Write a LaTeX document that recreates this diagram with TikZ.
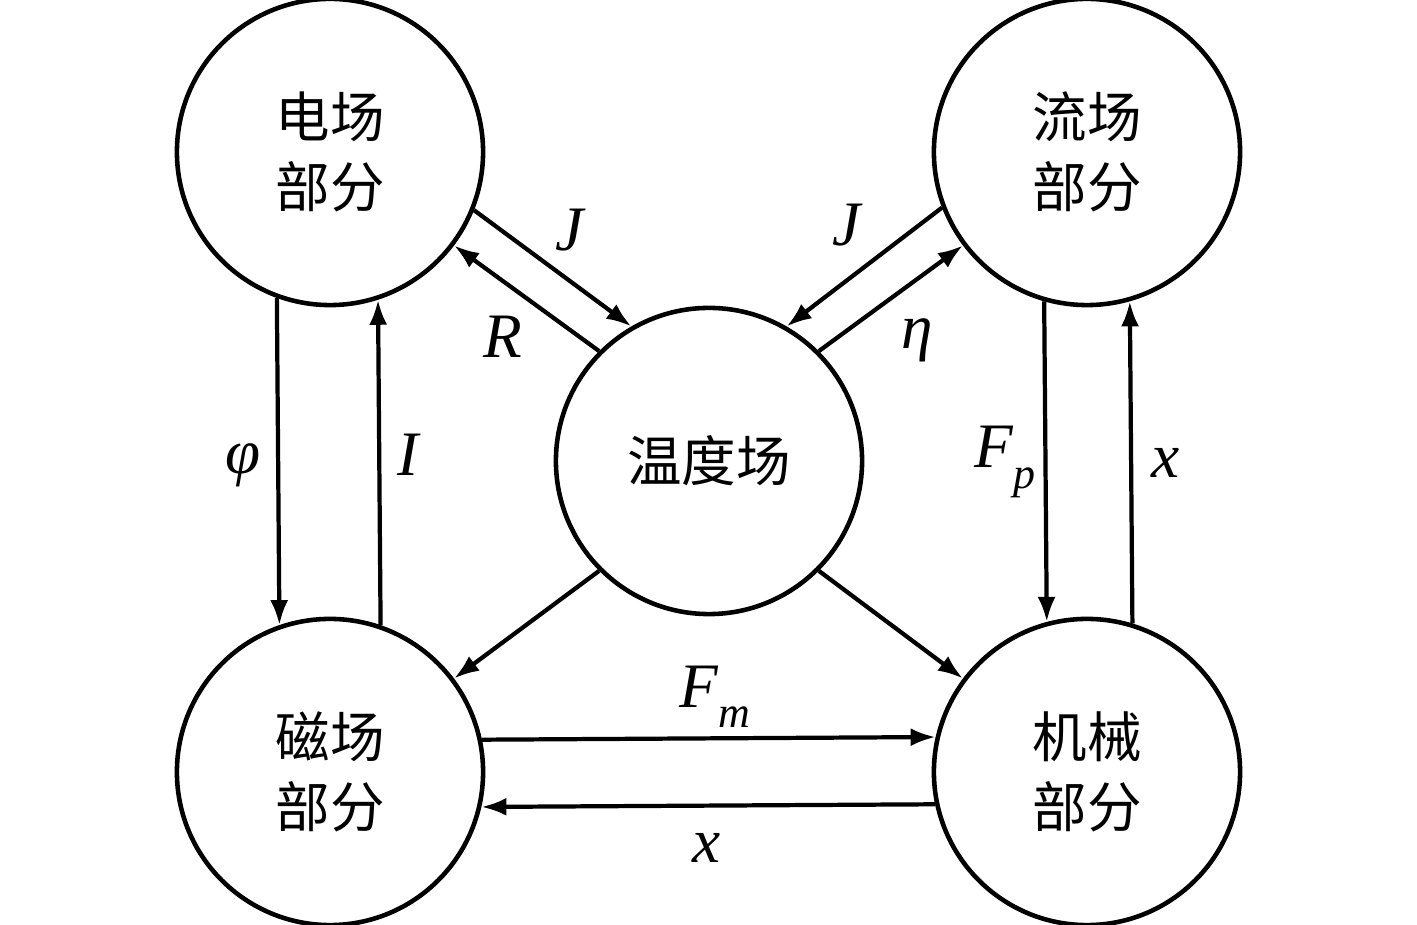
\documentclass[tikz,border=0pt]{standalone}
\usepackage{fontspec}
\setmainfont{Liberation Serif}
\newfontfamily\cjk{Noto Sans CJK SC}
\usetikzlibrary{arrows.meta}
\newcommand{\subit}[1]{\raisebox{-0.32em}{\fontsize{12.5pt}{13pt}\selectfont\itshape #1}}

\begin{document}
\begin{tikzpicture}[x=0.01cm, y=0.01cm]
	\tikzstyle{every node}+=[inner sep=0pt]
	\tikzstyle{field}=[draw, circle, line width=1.3pt, minimum size=3.06cm, align=center, font=\cjk\fontsize{15.5pt}{20pt}\selectfont]
	\tikzstyle{link}=[line width=1.2pt, -{Latex[length=0.25cm, width=0.18cm]}]
	\tikzstyle{lab}=[font=\fontsize{18pt}{20pt}\selectfont\itshape]
	\useasboundingbox (0,0) rectangle (1417,-925);
	% fields
	\node [field] (elec) at (330,-152) {电场\\部分};
	\node [field] (flow) at (1087,-152) {流场\\部分};
	\node [field] (temp) at (709,-461) {温度场};
	\node [field] (magn) at (330,-772) {磁场\\部分};
	\node [field] (mech) at (1087,-772) {机械\\部分};
	% couplings
	\draw [link] (elec.250.5) -- (magn.109.5);
	\draw [link] (magn.71.7) -- (elec.288.3);
	\draw [link] (flow.254.5) -- (mech.105.5);
	\draw [link] (mech.73.3) -- (flow.286.7);
	\draw [link] (magn.12.1) -- (mech.167.9);
	\draw [link] (mech.192.5) -- (magn.347.5);
	\draw [link] (elec.338.5) -- (temp.120);
	\draw [link] (temp.135) -- (elec.323);
	\draw [link] (flow.201.5) -- (temp.60);
	\draw [link] (temp.45) -- (flow.217);
	\draw [link] (temp.225) -- (magn.37);
	\draw [link] (temp.315) -- (mech.143);
	% labels
	\node [lab] (lJe) at (570,-230) {J};
	\node [lab] (lR) at (503,-337) {R};
	\node [lab] (lJf) at (847,-225) {J};
	\node [lab] (leta) at (917,-340) {η};
	\node [lab] (lphi) at (243,-465) {φ};
	\node [lab] (lI) at (408,-455) {I};
	\node [lab] (lFp) at (1005,-462) {F\subit{p}};
	\node [lab] (lxr) at (1166,-463) {x};
	\node [lab] (lFm) at (715,-697) {F\subit{m}};
	\node [lab] (lxb) at (707,-848) {x};
\end{tikzpicture}
\end{document}
